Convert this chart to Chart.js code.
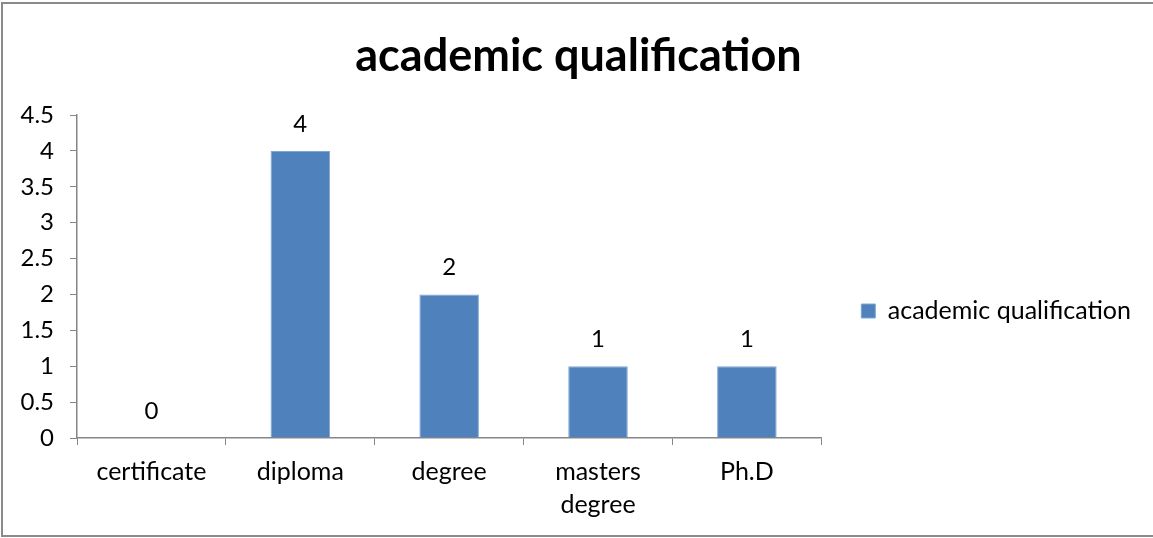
<!DOCTYPE html>
<html>
<head>
<meta charset="utf-8">
<script src="https://cdn.jsdelivr.net/npm/chart.js@4.4.1/dist/chart.umd.min.js"></script>
<style>
  html, body { margin: 0; padding: 0; background: #fff; }
  #wrap { width: 1153px; height: 538px; }
</style>
</head>
<body>
<div id="wrap"><canvas id="mycanvas" width="1153" height="538"></canvas></div>
<script>
var categories = ['certificate', 'diploma', 'degree', ['masters', 'degree'], 'Ph.D'];
var counts = [0, 4, 2, 1, 1];
var yTicks = [0, 0.5, 1, 1.5, 2, 2.5, 3, 3.5, 4, 4.5];
var seriesName = 'academic qualification';

var FONT = 'Lato, "Open Sans", sans-serif';
var AXIS = '#868686';

// white page with the thin grey frame around the chart
var frame = {
	id: 'frame',
	beforeDraw: function(chart) {
		var c = chart.ctx;
		c.save();
		c.fillStyle = '#fff';
		c.fillRect(0, 0, chart.width, chart.height);
		c.strokeStyle = '#8a8a8a';
		c.lineWidth = 2;
		c.strokeRect(2, 3, chart.width + 10, chart.height - 5);
		c.restore();
	}
};

// value printed above every bar
var barValues = {
	id: 'barValues',
	afterDatasetsDraw: function(chart) {
		var c = chart.ctx;
		var meta = chart.getDatasetMeta(0);
		c.save();
		c.font = '24px ' + FONT;
		c.fillStyle = '#000';
		c.textAlign = 'center';
		c.textBaseline = 'middle';
		meta.data.forEach(function(bar, i) {
			c.fillText(String(counts[i]), bar.x, bar.y - 27);
		});
		c.restore();
	}
};

var ctx = document.getElementById('mycanvas');
var barGraph = new Chart(ctx, {
	type: 'bar',
	data: {
		labels: categories,
		datasets: [{
			label: seriesName,
			data: counts,
			backgroundColor: '#4F81BD',
			borderColor: '#7FA6D6',
			borderWidth: 1,
			barPercentage: 0.4,
			categoryPercentage: 1
		}]
	},
	options: {
		responsive: false,
		animation: false,
		layout: { padding: { left: 16, right: 12, top: 0, bottom: 0 } },
		plugins: {
			title: {
				display: true,
				text: 'academic qualification',
				color: '#000',
				font: { family: FONT, size: 45, weight: 'bold', lineHeight: 1.2 },
				padding: { top: 29, bottom: 32 }
			},
			legend: {
				position: 'right',
				maxWidth: 500,
				title: { display: true, text: ' ', padding: 30, font: { size: 20 } },
				labels: {
					boxWidth: 14,
					boxHeight: 14,
					padding: 40,
					color: '#000',
					font: { family: FONT, size: 25 }
				}
			},
			tooltip: { enabled: false }
		},
		scales: {
			x: {
				grid: { display: true, drawOnChartArea: false, drawTicks: true, tickLength: 7, color: AXIS },
				border: { color: AXIS, width: 1.5 },
				ticks: { color: '#000', padding: 10, font: { family: FONT, size: 25, lineHeight: 1.32 }, maxRotation: 0 },
				afterFit: function(scale) { scale.height = 100; }
			},
			y: {
				min: 0,
				max: 4.5,
				afterBuildTicks: function(scale) {
					scale.ticks = yTicks.map(function(v) { return { value: v }; });
				},
				grid: { display: true, drawOnChartArea: false, drawTicks: true, tickLength: 7, color: AXIS },
				border: { color: AXIS, width: 1.5 },
				ticks: {
					color: '#000',
					padding: 16,
					font: { family: FONT, size: 24 },
					callback: function(v) { return String(v); }
				},
				afterFit: function(scale) { scale.width = 61; }
			}
		}
	},
	plugins: [frame, barValues]
});
</script>
</body>
</html>
